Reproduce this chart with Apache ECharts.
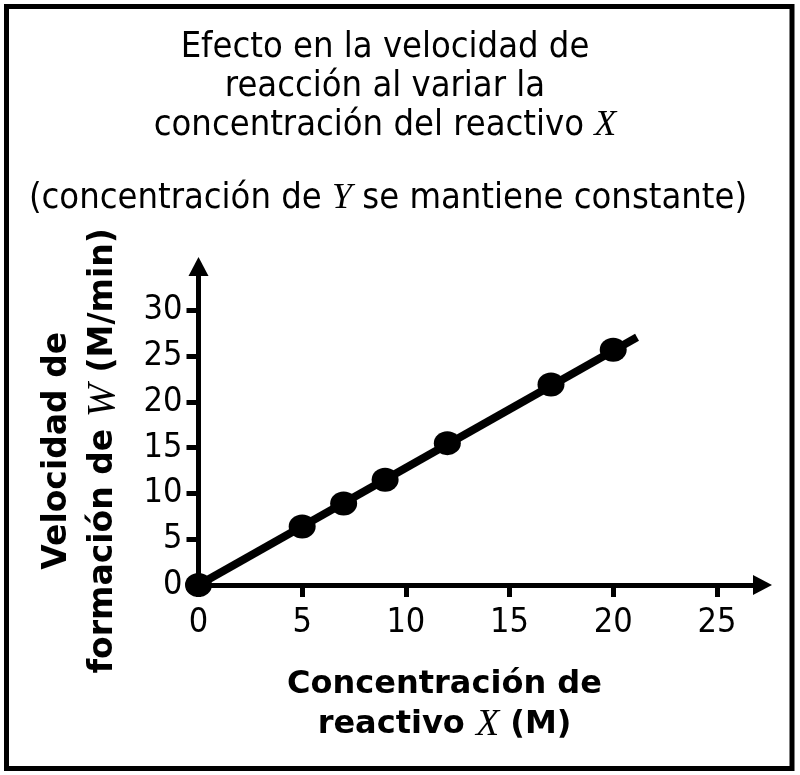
<!DOCTYPE html>
<html>
<head>
<meta charset="utf-8">
<script src="https://cdn.jsdelivr.net/npm/echarts@6/dist/echarts.min.js"></script>
<style>
html,body{margin:0;padding:0;background:#fff;}
#chart{width:800px;height:775px;}
</style>
</head>
<body>
<div id="chart"></div>
<script>
// Data
const concX = [0, 5, 7, 9, 12, 17, 20];
const rateW = [0, 6.4, 8.9, 11.5, 15.5, 21.9, 25.7];
const fitLineX = [0, 21.15];
const fitLineY = [0, 27.07];
const xTickValues = [0, 5, 10, 15, 20, 25];
const yTickValues = [0, 5, 10, 15, 20, 25, 30];
const titleLines = ['Efecto en la velocidad de', 'reacción al variar la', 'concentración del reactivo '];
const titleVar = 'X';
const subtitleParts = ['(concentración de ', 'Y', ' se mantiene constante)'];
const xNameParts = ['Concentración de', 'reactivo ', 'X', ' (M)'];
const yNameParts = ['Velocidad de', 'formación de ', 'W', ' (M/min)'];

const narrow = "'DejaVu Sans Condensed', 'Liberation Sans Narrow', 'DejaVu Sans', sans-serif";
const sansFam = "'DejaVu Sans', Verdana, sans-serif";
const serif = "'Liberation Serif', 'DejaVu Serif', serif";

const chart = echarts.init(document.getElementById('chart'), null, {renderer: 'canvas'});

const option = {
  animation: false,
  backgroundColor: '#fff',
  grid: {left: 198.5, right: 37.5, top: 266.5, bottom: 190, containLabel: false},
  xAxis: {
    type: 'value', min: 0, max: 27.2,
    splitLine: {show: false},
    axisLine: {show: true, onZero: false, lineStyle: {color: '#000', width: 5}, symbol: ['none', 'triangle'], symbolSize: [20, 19]},
    axisTick: {show: true, length: 12, lineStyle: {color: '#000', width: 5}, customValues: xTickValues},
    axisLabel: {color: '#000', fontFamily: narrow, fontSize: 34, margin: 21, customValues: xTickValues},
    name: '{a|' + xNameParts[0] + '}\n{a|' + xNameParts[1] + '}{i|' + xNameParts[2] + '}{a|' + xNameParts[3] + '}',
    nameLocation: 'middle',
    nameGap: 80,
    nameTextStyle: {
      padding: [0, 72, 0, 0],
      lineHeight: 40,
      rich: {
        a: {fontFamily: sansFam, fontWeight: 'bold', fontSize: 32, color: '#000', lineHeight: 40},
        i: {fontFamily: serif, fontStyle: 'italic', fontSize: 38, color: '#000', lineHeight: 40}
      }
    }
  },
  yAxis: {
    type: 'value', min: 0, max: 34.8,
    splitLine: {show: false},
    axisLine: {show: true, onZero: false, lineStyle: {color: '#000', width: 5}, symbol: ['none', 'triangle'], symbolSize: [20, 19]},
    axisTick: {show: true, length: 12, lineStyle: {color: '#000', width: 5}, customValues: yTickValues},
    axisLabel: {color: '#000', fontFamily: narrow, fontSize: 34, margin: 16, customValues: yTickValues},
    name: '{b|' + yNameParts[0] + '}\n{b|' + yNameParts[1] + '}{w|' + yNameParts[2] + '}{b|' + yNameParts[3] + '}',
    nameLocation: 'middle',
    nameGap: 72,
    nameTextStyle: {
      padding: [0, 50, 0, 0],
      lineHeight: 46,
      rich: {
        b: {fontFamily: sansFam, fontWeight: 'bold', fontSize: 33, color: '#000', lineHeight: 46},
        w: {fontFamily: serif, fontStyle: 'italic', fontSize: 40, color: '#000', lineHeight: 46}
      }
    }
  },
  series: [
    {
      type: 'line',
      data: fitLineX.map((x, i) => [x, fitLineY[i]]),
      showSymbol: false,
      lineStyle: {color: '#000', width: 8, cap: 'butt'},
      silent: true,
      z: 2
    },
    {
      type: 'scatter',
      data: concX.map((x, i) => [x, rateW[i]]),
      symbol: 'circle',
      symbolSize: [27, 24],
      itemStyle: {color: '#000', opacity: 1},
      z: 3
    }
  ],
  graphic: [
    {
      type: 'rect',
      shape: {x: 6.5, y: 6.5, width: 785.5, height: 762},
      style: {fill: 'none', stroke: '#000', lineWidth: 5},
      silent: true, z: 100
    },
    {
      type: 'text',
      x: 385, y: 87,
      style: {
        text: '{n|' + titleLines[0] + '}\n{n|' + titleLines[1] + '}\n{n|' + titleLines[2] + '}{i|' + titleVar + '}',
        align: 'center', verticalAlign: 'middle',
        rich: {
          n: {fontFamily: narrow, fontSize: 36, fill: '#000', lineHeight: 39},
          i: {fontFamily: serif, fontStyle: 'italic', fontSize: 36, fill: '#000', lineHeight: 39}
        }
      },
      silent: true
    },
    {
      type: 'text',
      x: 388, y: 199,
      style: {
        text: '{n|' + subtitleParts[0] + '}{i|' + subtitleParts[1] + '}{n|' + subtitleParts[2] + '}',
        align: 'center', verticalAlign: 'middle',
        rich: {
          n: {fontFamily: narrow, fontSize: 36, fill: '#000', lineHeight: 40},
          i: {fontFamily: serif, fontStyle: 'italic', fontSize: 36, fill: '#000', lineHeight: 40}
        }
      },
      silent: true
    }
  ]
};
chart.setOption(option);
</script>
</body>
</html>
